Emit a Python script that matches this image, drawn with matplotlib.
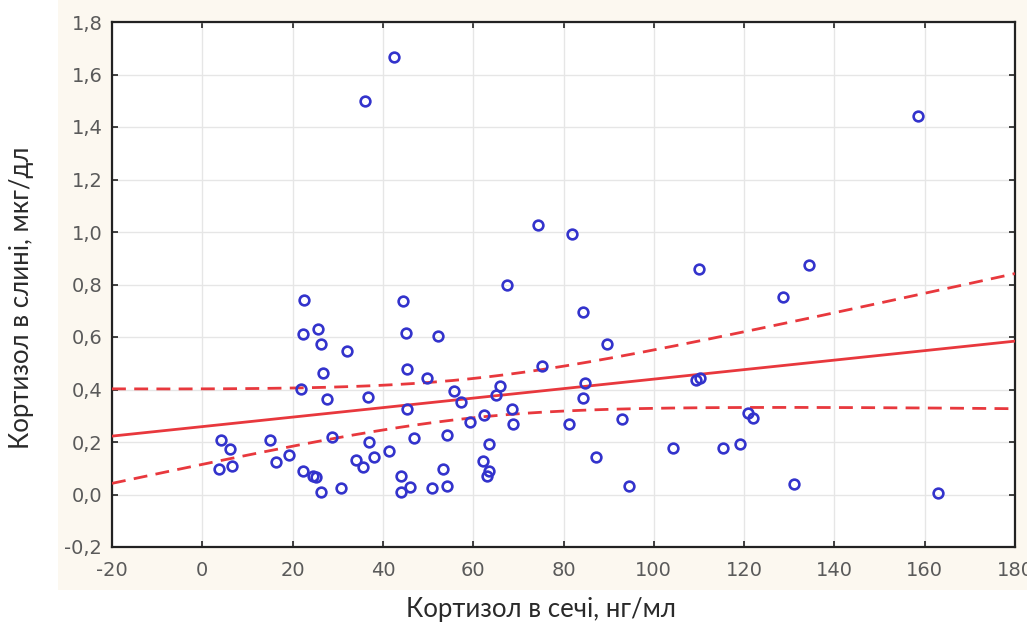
import numpy as np
import matplotlib
matplotlib.use('Agg')
import matplotlib.pyplot as plt
from matplotlib.patches import Rectangle

# urine cortisol (ng/ml) vs saliva cortisol (mcg/dl)
urine = [42.5, 36.0, 158.5, 74.4, 81.9, 67.5, 22.5, 84.3, 44.5, 110.0,
         134.4, 128.6, 4.1, 6.1, 3.6, 6.6, 14.9, 16.4, 19.3, 22.3,
         25.6, 26.3, 26.7, 21.9, 27.7, 28.8, 22.3, 24.6, 25.2, 26.3,
         30.7, 32.0, 45.1, 52.2, 45.3, 49.8, 36.6, 45.3, 55.7, 57.3,
         59.2, 62.4, 66.0, 65.0, 68.6, 68.9, 75.3, 89.6, 84.8, 84.3,
         81.2, 92.9, 87.2, 94.5, 104.3, 37.0, 34.0, 35.6, 38.0, 41.3,
         46.9, 54.2, 63.6, 62.1, 63.5, 63.1, 44.0, 53.3, 43.9, 46.0,
         50.9, 54.2, 109.3, 110.3, 120.9, 122.0, 115.3, 119.1, 131.0, 162.9]
saliva = [1.667, 1.499, 1.442, 1.027, 0.992, 0.800, 0.741, 0.697, 0.737, 0.859,
          0.874, 0.752, 0.208, 0.173, 0.097, 0.107, 0.208, 0.124, 0.150, 0.613,
          0.630, 0.573, 0.461, 0.402, 0.362, 0.219, 0.090, 0.071, 0.067, 0.008,
          0.023, 0.547, 0.615, 0.605, 0.478, 0.444, 0.370, 0.326, 0.393, 0.351,
          0.276, 0.303, 0.412, 0.378, 0.326, 0.269, 0.490, 0.572, 0.425, 0.368,
          0.269, 0.289, 0.141, 0.032, 0.177, 0.200, 0.133, 0.105, 0.143, 0.164,
          0.217, 0.225, 0.192, 0.126, 0.091, 0.072, 0.072, 0.099, 0.008, 0.027,
          0.023, 0.032, 0.437, 0.445, 0.310, 0.291, 0.177, 0.192, 0.040, 0.006]

xticks = [-20, 0, 20, 40, 60, 80, 100, 120, 140, 160, 180]
yticks = [-0.2, 0.0, 0.2, 0.4, 0.6, 0.8, 1.0, 1.2, 1.4, 1.6, 1.8]

x = np.array(urine)
y = np.array(saliva)
n = len(x)

# linear fit and 95% confidence band for the mean
b, a = np.polyfit(x, y, 1)
resid = y - (a + b * x)
s = np.sqrt(np.sum(resid ** 2) / (n - 2))
sxx = np.sum((x - x.mean()) ** 2)
t = 1.990
xs = np.linspace(-20, 180, 200)
fit = a + b * xs
half = t * s * np.sqrt(1.0 / n + (xs - x.mean()) ** 2 / sxx)

fig = plt.figure(figsize=(10.27, 6.32), dpi=100, facecolor='white')
fig.patches.append(Rectangle((58 / 1027, 1 - 590 / 632), 1, 1, transform=fig.transFigure,
                             facecolor='#fcf8f0', edgecolor='none', zorder=-10))
ax = fig.add_axes([112 / 1027, 1 - 547 / 632, 903 / 1027, 525 / 632])
ax.set_facecolor('white')

ax.grid(True, color='#e6e6e6', linewidth=1.0)
ax.set_axisbelow(True)

red = '#e8383d'
ax.plot(xs, fit, color=red, linewidth=2.0, zorder=3)
ax.plot(xs, fit + half, color=red, linewidth=2.0, linestyle=(0, (5, 3)), zorder=3)
ax.plot(xs, fit - half, color=red, linewidth=2.0, linestyle=(0, (5, 3)), zorder=3)

ax.plot(x, y, linestyle='none', marker='o', ms=7.0, mew=1.9, mfc='none',
        mec='#3333cc', zorder=4)

ax.set_xlim(-20, 180)
ax.set_ylim(-0.2, 1.8)
ax.set_xticks(xticks)
ax.set_yticks(yticks)
ax.set_xticklabels([str(v) for v in xticks])
ax.set_yticklabels([('%.1f' % v).replace('.', ',') for v in yticks])

for sp in ax.spines.values():
    sp.set_color('#222222')
    sp.set_linewidth(1.6)

ax.tick_params(direction='in', length=4, width=1.2, color='#222222',
               top=True, right=True, labelsize=14, labelcolor='#5a5a5a')
ax.tick_params(axis='y', pad=7)
ax.tick_params(axis='x', pad=10)
for lab in ax.get_xticklabels() + ax.get_yticklabels():
    lab.set_fontfamily('DejaVu Sans')

fig.text(541 / 1027, 1 - 610 / 632, 'Кортизол в сечі, нг/мл', ha='center', va='center',
         fontsize=18.5, family='Lato', color='#2a2a2a')
fig.text(22 / 1027, 1 - 298 / 632, 'Кортизол в слині, мкг/дл', ha='center', va='center',
         rotation=90, fontsize=18.5, family='Lato', color='#2a2a2a')

fig.savefig('out.png', dpi=100, facecolor=fig.get_facecolor())
